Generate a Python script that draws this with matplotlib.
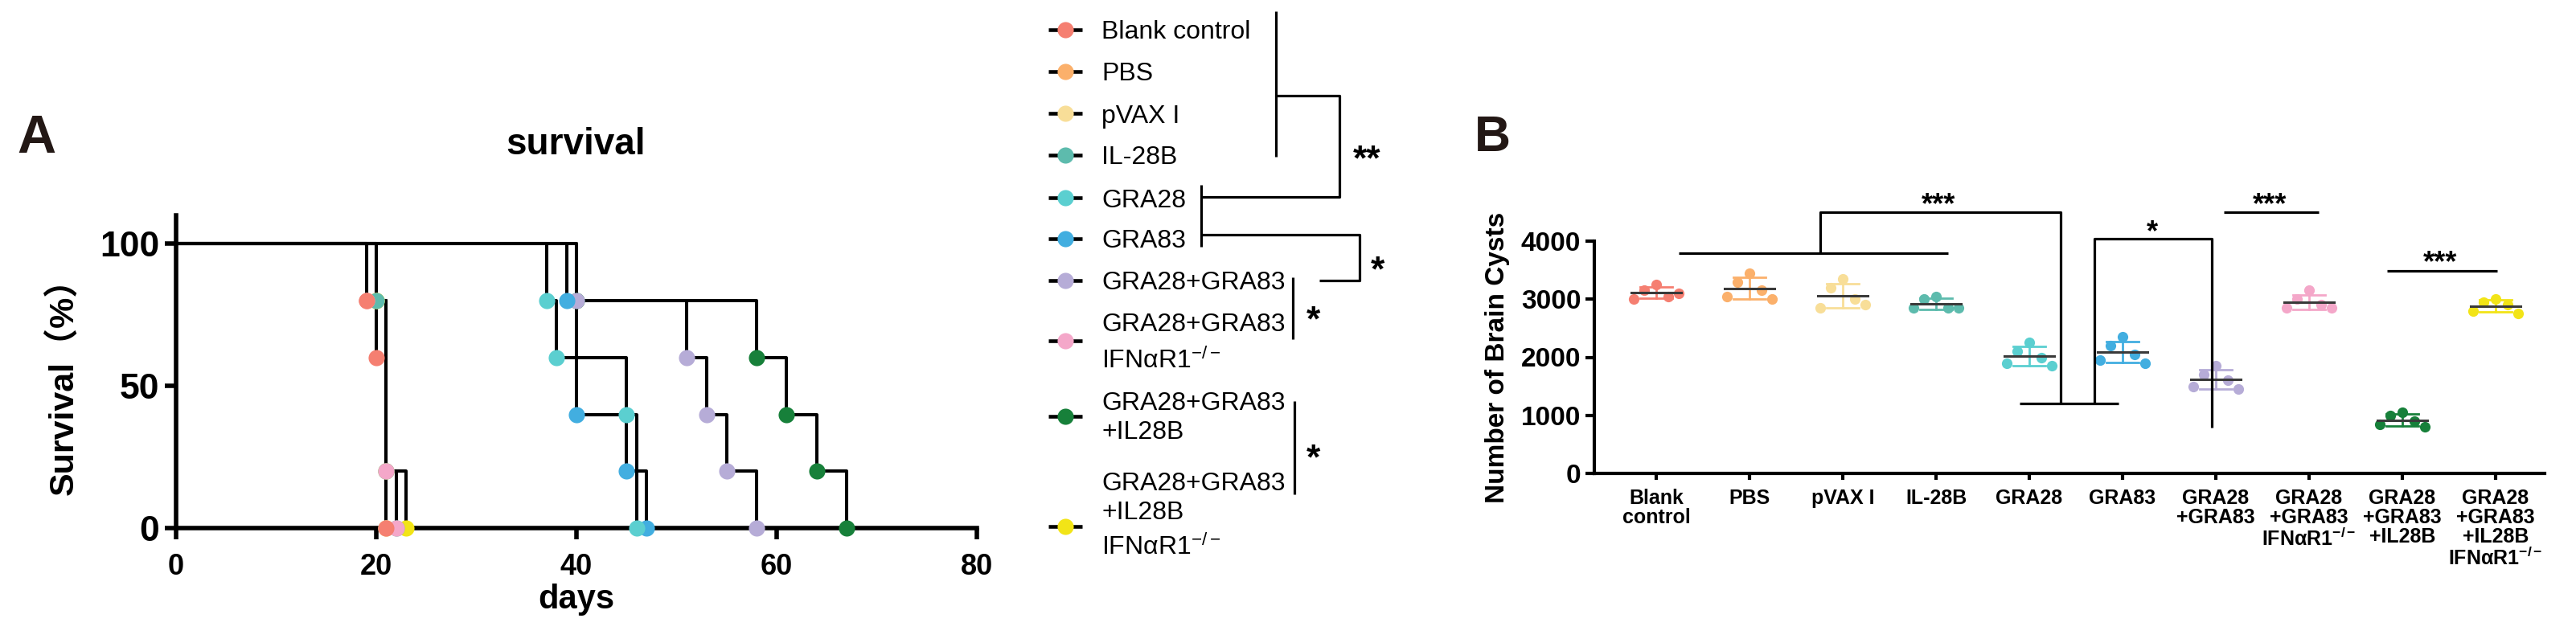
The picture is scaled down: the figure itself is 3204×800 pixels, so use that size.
import numpy as np
import matplotlib
matplotlib.use('Agg')
import matplotlib.pyplot as plt

plt.rcParams['font.family'] = ['Liberation Sans', 'Noto Sans CJK SC', 'DejaVu Sans']
plt.rcParams['mathtext.fontset'] = 'custom'
plt.rcParams['mathtext.rm'] = 'Liberation Sans'
plt.rcParams['mathtext.it'] = 'Liberation Sans:italic'
plt.rcParams['mathtext.bf'] = 'Liberation Sans:bold'

# ---------------- data ----------------
groups = ['Blank control', 'PBS', 'pVAX I', 'IL-28B', 'GRA28', 'GRA83', 'GRA28+GRA83',
          'GRA28+GRA83 IFNaR1-/-', 'GRA28+GRA83+IL28B', 'GRA28+GRA83+IL28B IFNaR1-/-']
colors = ['#F57F71', '#FBB06B', '#F8DE98', '#5DBBAD', '#5BCFD0', '#42AEE0',
          '#B6ACD7', '#F4A7C9', '#17803A', '#F2E417']

# survival: day of each event and survival (%) after it
surv_days = [[19, 20, 21], [19, 21], [20, 21], [20, 21, 22], [37, 38, 45, 46],
             [39, 40, 45, 47], [40, 51, 53, 55, 58], [19, 21, 22], [40, 58, 61, 64, 67],
             [20, 21, 23]]
surv_pct = [[80, 60, 0], [80, 0], [80, 0], [80, 20, 0], [80, 60, 40, 0],
            [80, 40, 20, 0], [80, 60, 40, 20, 0], [80, 20, 0], [80, 60, 40, 20, 0],
            [80, 20, 0]]

# brain cysts per mouse
cyst_counts = [[3250, 3150, 3050, 3000, 3100],
               [3450, 3300, 3150, 3050, 3000],
               [3350, 3200, 3000, 2850, 2900],
               [3050, 3000, 2850, 2850, 2850],
               [2250, 2100, 2000, 1900, 1850],
               [2350, 2200, 2050, 1950, 1900],
               [1850, 1700, 1600, 1500, 1450],
               [3150, 3000, 2900, 2850, 2850],
               [1050, 1000, 900, 850, 800],
               [3000, 2950, 2900, 2800, 2750]]

b_ticklabels = ['Blank\ncontrol', 'PBS', 'pVAX I', 'IL-28B', 'GRA28', 'GRA83',
                'GRA28\n+GRA83', 'GRA28\n+GRA83\nIFNαR1$^{\\mathbf{-/-}}$',
                'GRA28\n+GRA83\n+IL28B', 'GRA28\n+GRA83\n+IL28B\nIFNαR1$^{\\mathbf{-/-}}$']

# ---------------- style ----------------
W, H = 3204, 800
draw_rank = [10, 5, 6, 8, 4, 3, 2, 9, 1, 7]   # higher = on top
pt_offsets = [0.0, -0.13, 0.13, -0.24, 0.24]

fig = plt.figure(figsize=(W / 100, H / 100), dpi=100)

axA = fig.add_axes([219 / W, 1 - 657 / H, 996 / W, (657 - 268) / H])
axB = fig.add_axes([1983 / W, 1 - 589 / H, 1182 / W, 289 / H])
ov = fig.add_axes([0, 0, 1, 1], zorder=5)
ov.set_xlim(0, W)
ov.set_ylim(H, 0)
ov.axis('off')
ov.patch.set_alpha(0)

# ---------------- panel A ----------------
for i in range(len(groups)):
    x = [0] + surv_days[i]
    y = [100] + surv_pct[i]
    axA.step(x, y, where='post', color='black', lw=2.9, zorder=2, clip_on=False)
    axA.plot(surv_days[i], surv_pct[i], 'o', color=colors[i], ms=14.5, mec='none',
             zorder=3 + draw_rank[i] * 0.1, clip_on=False)

axA.set_xlim(0, 80)
axA.set_ylim(0, 110)
axA.set_xticks([0, 20, 40, 60, 80])
axA.set_yticks([0, 50, 100])
for s in ['top', 'right']:
    axA.spines[s].set_visible(False)
for s in ['left', 'bottom']:
    axA.spines[s].set_linewidth(4)
axA.tick_params(axis='both', width=4, length=10, direction='out')
axA.tick_params(axis='y', labelsize=32, pad=5)
axA.tick_params(axis='x', labelsize=26, pad=12)
for lbl in axA.get_xticklabels() + axA.get_yticklabels():
    lbl.set_fontweight('bold')

fig.text(45 / W, 1 - 190 / H, 'A', fontsize=48, fontweight='bold', ha='center',
         va='baseline', color='#231815')
fig.text(716 / W, 1 - 192 / H, 'survival', fontsize=33, fontweight='bold', ha='center',
         va='baseline')
fig.text(717 / W, 1 - 757 / H, 'days', fontsize=30, fontweight='bold', ha='center',
         va='baseline')
fig.text(79 / W, 1 - 470 / H, 'Survival（%）', fontsize=31, fontweight='bold',
         ha='center', va='center', rotation=90)

# legend
leg_y = [37, 89, 141, 193, 246, 297, 349, 424, 518, 655]
leg_lines = [['Blank control'], ['PBS'], ['pVAX I'], ['IL-28B'], ['GRA28'], ['GRA83'],
             ['GRA28+GRA83'], ['GRA28+GRA83', 'IFNαR1$^{-/-}$'],
             ['GRA28+GRA83', '+IL28B'], ['GRA28+GRA83', '+IL28B', 'IFNαR1$^{-/-}$']]
leg_line_y = [[37], [89], [141], [193], [246], [297], [349], [400, 447], [498, 535],
              [598, 635, 678]]
for i in range(len(groups)):
    yy = leg_y[i]
    ov.plot([1304, 1346], [yy, yy], color='black', lw=3.3, solid_capstyle='butt')
    ov.plot([1325], [yy], 'o', color=colors[i], ms=14.5, mec='none')
    for t, ty in zip(leg_lines[i], leg_line_y[i]):
        ov.text(1370, ty + 11.5, t, fontsize=23, ha='left', va='baseline')

blk = dict(color='black', lw=2.3, solid_capstyle='butt')
ov.plot([1587, 1587, 1666, 1666, 1494], [14, 119, 119, 245, 245], **blk)
ov.plot([1587, 1587], [119, 195], **blk)
ov.plot([1494, 1494], [230, 307], **blk)
ov.plot([1494, 1691, 1691, 1641], [292, 292, 349, 349], **blk)
ov.plot([1608, 1608], [345, 422], **blk)
ov.plot([1610, 1610], [499, 615], **blk)
star_kw = dict(fontsize=32, fontweight='bold', ha='center', va='baseline')
ov.text(1700, 185 + 26, '**', **star_kw)
ov.text(1713, 323 + 26, '*', **star_kw)
ov.text(1633, 385 + 26, '*', **star_kw)
ov.text(1633, 557 + 26, '*', **star_kw)

# ---------------- panel B ----------------
xs = np.arange(len(groups))
for i in range(len(groups)):
    vals = np.array(cyst_counts[i], dtype=float)
    m, sd = vals.mean(), vals.std(ddof=1)
    axB.plot(xs[i] + np.array(pt_offsets), vals, 'o', color=colors[i], ms=9.5,
             mec='none', zorder=3)
    axB.plot([xs[i], xs[i]], [m - sd, m + sd], color=colors[i], lw=2, zorder=2)
    for c in (m - sd, m + sd):
        axB.plot([xs[i] - 0.17, xs[i] + 0.17], [c, c], color=colors[i], lw=2, zorder=2)
    axB.plot([xs[i] - 0.27, xs[i] + 0.27], [m, m], color='#3a3a3a', lw=2.2, zorder=4)

axB.set_xlim(-0.664, 9.526)
axB.set_ylim(0, 4000)
axB.set_yticks([0, 1000, 2000, 3000, 4000])
axB.set_xticks(xs)
axB.set_xticklabels(b_ticklabels, fontsize=18, fontweight='bold', linespacing=1.0,
                    va='top')
for s in ['top', 'right']:
    axB.spines[s].set_visible(False)
for s in ['left', 'bottom']:
    axB.spines[s].set_linewidth(3)
axB.tick_params(axis='both', width=3, direction='out')
axB.tick_params(axis='y', length=8, labelsize=24, pad=4)
axB.tick_params(axis='x', length=6, pad=8)
for lbl in axB.get_yticklabels():
    lbl.set_fontweight('bold')
fig.text(1862 / W, 1 - 445 / H, 'Number of Brain Cysts', fontsize=24, fontweight='bold',
         ha='center', va='center', rotation=90)
fig.text(1856 / W, 1 - 188 / H, 'B', fontsize=45, fontweight='bold', ha='center',
         va='baseline', color='#231815')

bk = dict(color='black', lw=2.3, clip_on=False, solid_capstyle='butt', zorder=5)
axB.plot([0.24, 3.13], [3790, 3790], **bk)
axB.plot([1.76, 1.76, 4.34, 4.34], [3790, 4500, 4500, 1200], **bk)
axB.plot([3.9, 4.96], [1200, 1200], **bk)
axB.plot([4.70, 4.70, 5.96, 5.96], [1200, 4040, 4040, 790], **bk)
axB.plot([6.09, 7.10], [4500, 4500], **bk)
axB.plot([7.84, 9.02], [3490, 3490], **bk)
sk = dict(fontsize=26, fontweight='bold', ha='center', va='baseline', clip_on=False)
axB.text(3.03, 4775 - 290, '***', **sk)
axB.text(5.32, 4305 - 290, '*', **sk)
axB.text(6.58, 4775 - 290, '***', **sk)
axB.text(8.41, 3779 - 290, '***', **sk)

fig.savefig('out.png', dpi=100)
